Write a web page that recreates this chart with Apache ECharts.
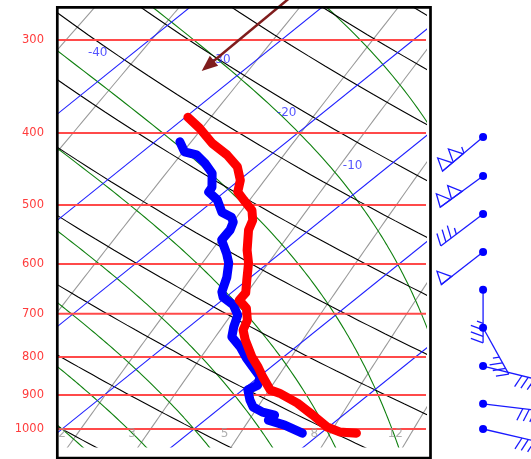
<!DOCTYPE html>
<html><head><meta charset="utf-8">
<script src="https://cdn.jsdelivr.net/npm/echarts@6/dist/echarts.min.js"></script>
<style>html,body{margin:0;padding:0;background:#fff}#c{width:531px;height:459px}</style>
</head><body><div id="c"></div>
<script>
// ---------------- data ----------------
const pressureLevels = [300, 400, 500, 600, 700, 800, 900, 1000];
const pressureLabels = ['300', '400', '500', '600', '700', '800', '900', '1000'];
const isothermTemps = [-120, -110, -100, -90, -80, -70, -60, -50, -40, -30, -20, -10, 0, 10, 20, 30, 40];
const dryAdiabatThetas = [-30, -20, -10, 0, 10, 20, 30, 40, 50, 60, 70, 80, 90, 100, 110, 120, 130, 140, 150];
const moistAdiabatThetas = [-10, -5, 0, 5, 10, 15, 20, 25, 30, 35, 40];
const mixingRatios = [0.2, 0.4, 1, 2, 3, 5, 8, 12, 20];
const mixingLabelValues = [2, 3, 5, 8, 12];
const mixingLabelTexts = ['2', '3', '5', '8', '12'];
const isothermLabelTemps = [-40, -30, -20, -10];
const isothermLabelTexts = ['-40', '-30', '-20', '-10'];
const isothermLabelPressures = [311, 318, 375, 442];

const tempPressure = [381, 394, 413, 428, 444, 463, 480, 492, 508, 524, 540, 575, 598, 631, 656, 671, 688, 714, 736, 759, 800, 825, 851, 886, 895, 923, 958, 994, 1009, 1013];
const tempValues = [-29.8, -27.9, -25.5, -23.3, -21.4, -19.9, -19.0, -17.8, -16.2, -15.2, -14.6, -12.8, -11.5, -10.0, -8.9, -8.7, -7.4, -6.2, -5.6, -4.5, -2.4, -1.0, 0.3, 2.1, 3.1, 5.4, 7.7, 9.9, 11.3, 12.7];
const dewPressure = [411, 424, 428, 439, 453, 473, 480, 492, 511, 519, 527, 540, 557, 580, 598, 625, 654, 665, 681, 703, 729, 752, 776, 803, 825, 851, 873, 886, 914, 934, 949, 958, 973, 988, 1013];
const dewValues = [-28.1, -26.8, -25.6, -24.2, -22.7, -21.4, -21.2, -19.8, -18.3, -17.1, -16.5, -16.0, -15.7, -14.1, -13.0, -11.8, -10.8, -10.2, -8.7, -7.4, -6.6, -5.8, -4.2, -2.7, -1.4, 0.1, 0.7, 0.4, 1.5, 2.4, 3.6, 4.8, 4.8, 6.5, 8.6];

const windPressure = [405, 457, 514, 578, 650, 731, 823, 925, 1000];
const windDirection = [230, 234, 233, 232, 180, 151, 104, 97, 103];
const windSpeed = [105, 100, 35, 50, 35, 35, 30, 30, 30];

// arrow: [skewed X, pressure] of start and end
const arrowStart = [7.5, 261];
const arrowEnd = [0.58, 330];

// ---------------- diagram geometry ----------------
const SKEW = 70;
const P_TOP = 271.6, P_BOT = 1057.3, X_MIN = -10.38, X_MAX = 17.5;
const BARB_X = 21.9;
const skewX = (T, p) => T + SKEW * Math.log10(1000 / p);

const Rd = 287.04, Cp = 1005.7, Lv = 2.501e6, EPS = 0.622;
const es = Tc => 6.112 * Math.exp(17.67 * Tc / (Tc + 243.5));
function dTdp(T, p) {
  const e = es(T - 273.15), rs = EPS * e / (p - e);
  return (1 / p) * (Rd * T + Lv * rs) / (Cp + (Lv * Lv * rs * EPS) / (Rd * T * T));
}
function moistLine(tw) {
  const up = [], down = [];
  let T = tw + 273.15, p = 1000, h = -5;
  up.push([skewX(T - 273.15, p), p]);
  while (p > 255) {
    const k1 = dTdp(T, p), k2 = dTdp(T + h * k1 / 2, p + h / 2), k3 = dTdp(T + h * k2 / 2, p + h / 2), k4 = dTdp(T + h * k3, p + h);
    T += h * (k1 + 2 * k2 + 2 * k3 + k4) / 6; p += h;
    up.push([skewX(T - 273.15, p), p]);
  }
  T = tw + 273.15; p = 1000; h = 5;
  while (p < 1075) {
    const k1 = dTdp(T, p), k2 = dTdp(T + h * k1 / 2, p + h / 2), k3 = dTdp(T + h * k2 / 2, p + h / 2), k4 = dTdp(T + h * k3, p + h);
    T += h * (k1 + 2 * k2 + 2 * k3 + k4) / 6; p += h;
    down.unshift([skewX(T - 273.15, p), p]);
  }
  return down.concat(up);
}
const pSteps = [];
for (let p = 1075; p >= 255; p -= 10) pSteps.push(p);
const dryLine = th => pSteps.map(p => [skewX((th + 273.15) * Math.pow(p / 1000, 0.2857) - 273.15, p), p]);
function tdFromW(w, p) {
  const e = w * p / (622 + w), a = Math.log(e / 6.112);
  return 243.5 * a / (17.67 - a);
}
const mixLine = w => pSteps.map(p => [skewX(tdFromW(w, p), p), p]);

function ls(data, color, width, z) {
  return { type: 'line', data, showSymbol: false, symbol: 'none', silent: true, animation: false, clip: true,
    lineStyle: { color, width }, z, emphasis: { disabled: true } };
}

const series = [];
mixingRatios.forEach(w => series.push(ls(mixLine(w), '#9a9a9a', 1.1, 1)));
moistAdiabatThetas.forEach(t => series.push(ls(moistLine(t), '#0f800f', 1.1, 2)));
dryAdiabatThetas.forEach(t => series.push(ls(dryLine(t), '#000000', 1.1, 3)));
isothermTemps.forEach(t => series.push(ls([[skewX(t, 1075), 1075], [skewX(t, 255), 255]], '#1f1fff', 1.1, 4)));
pressureLevels.forEach(p => series.push(ls([[X_MIN - 1, p], [X_MAX + 1, p]], '#ff4a4a', 2, 5)));

series.push({ type: 'line', data: dewPressure.map((p, i) => [skewX(dewValues[i], p), p]), showSymbol: false, symbol: 'none',
  silent: true, animation: false, lineStyle: { color: '#0000ff', width: 9, cap: 'round', join: 'round' }, z: 10 });
series.push({ type: 'line', data: tempPressure.map((p, i) => [skewX(tempValues[i], p), p]), showSymbol: false, symbol: 'none',
  silent: true, animation: false, lineStyle: { color: '#ff0000', width: 9, cap: 'round', join: 'round' }, z: 11 });

// isotherm labels
series.push({ type: 'scatter', symbolSize: 0, silent: true, animation: false, z: 12,
  data: isothermLabelTemps.map((t, i) => [skewX(t, isothermLabelPressures[i]), isothermLabelPressures[i], i]),
  label: { show: true, position: 'inside', offset: [-37, 1], formatter: d => isothermLabelTexts[d.value[2]],
    color: '#2b2bff', fontSize: 12, fontFamily: 'DejaVu Sans' } });
// mixing ratio labels
series.push({ type: 'scatter', symbolSize: 0, silent: true, animation: false, z: 12,
  data: mixingLabelValues.map((w, i) => [skewX(tdFromW(w, 1012), 1012), 1012, i]),
  label: { show: true, position: 'inside', offset: [-16, 1], formatter: d => mixingLabelTexts[d.value[2]],
    color: '#9a9a9a', fontSize: 12, fontFamily: 'DejaVu Sans' } });

// wind barbs
series.push({ type: 'custom', coordinateSystem: 'cartesian2d', clip: false, silent: true, animation: false, z: 20,
  data: windPressure.map((p, i) => [BARB_X, p, windDirection[i], windSpeed[i]]),
  renderItem(params, api) {
    const c = api.coord([api.value(0), api.value(1)]);
    const d = api.value(2) * Math.PI / 180, spd = api.value(3);
    const ux = Math.sin(d), uy = -Math.cos(d);
    const tilt = 20 * Math.PI / 180;
    const qx = -uy, qy = ux;
    const px = qx * Math.cos(tilt) - ux * Math.sin(tilt), py = qy * Math.cos(tilt) - uy * Math.sin(tilt);
    const L = 53, FL = 13, PW = 13, SP = 6.5;
    const col = '#1a1aff';
    const P = s => [c[0] + s * ux, c[1] + s * uy];
    const kids = [];
    kids.push({ type: 'line', shape: { x1: c[0], y1: c[1], x2: c[0] + L * ux, y2: c[1] + L * uy }, style: { stroke: col, lineWidth: 1.3 } });
    let rem = Math.round(spd / 5) * 5;
    let s = L;
    const pen = Math.floor(rem / 50); rem -= pen * 50;
    const full = Math.floor(rem / 10); rem -= full * 10;
    const half = rem >= 5 ? 1 : 0;
    for (let k = 0; k < pen; k++) {
      const a = P(s), b = P(s - PW);
      kids.push({ type: 'polygon', shape: { points: [a, [a[0] + (FL + 1) * px, a[1] + (FL + 1) * py], b] }, style: { fill: 'none', stroke: col, lineWidth: 1.3 } });
      s -= PW + 1;
    }
    if (pen === 0 && full === 0 && half) s -= SP;
    for (let k = 0; k < full + half; k++) {
      const len = k < full ? FL : FL / 2;
      const a = P(s);
      kids.push({ type: 'line', shape: { x1: a[0], y1: a[1], x2: a[0] + len * px, y2: a[1] + len * py }, style: { stroke: col, lineWidth: 1.3 } });
      s -= SP;
    }
    kids.push({ type: 'circle', shape: { cx: c[0], cy: c[1], r: 4 }, style: { fill: '#0000ff' } });
    return { type: 'group', children: kids };
  } });

// arrow
series.push({ type: 'custom', coordinateSystem: 'cartesian2d', clip: false, silent: true, animation: false, z: 21,
  data: [[arrowStart[0], arrowStart[1], arrowEnd[0], arrowEnd[1]]],
  renderItem(params, api) {
    const a = api.coord([api.value(0), api.value(1)]);
    const b = api.coord([api.value(2), api.value(3)]);
    const dx = b[0] - a[0], dy = b[1] - a[1], len = Math.hypot(dx, dy);
    const ux = dx / len, uy = dy / len, HL = 16, HW = 6.5;
    const base = [b[0] - HL * ux, b[1] - HL * uy];
    const col = '#7f1d1d';
    return { type: 'group', children: [
      { type: 'line', shape: { x1: a[0], y1: a[1], x2: base[0] + 2 * ux, y2: base[1] + 2 * uy }, style: { stroke: col, lineWidth: 2.5 } },
      { type: 'polygon', shape: { points: [b, [base[0] - HW * uy, base[1] + HW * ux], [base[0] + HW * uy, base[1] - HW * ux]] }, style: { fill: col } }
    ] };
  } });

const chart = echarts.init(document.getElementById('c'), null, { renderer: 'canvas' });
chart.setOption({
  animation: false,
  backgroundColor: '#ffffff',
  grid: { left: 57, top: 8, width: 368, height: 439, containLabel: false },
  xAxis: { type: 'value', min: X_MIN, max: X_MAX, show: false },
  yAxis: { type: 'log', logBase: 10, min: P_TOP, max: P_BOT, inverse: true,
    axisLine: { show: false }, axisTick: { show: false }, splitLine: { show: false },
    axisLabel: { customValues: pressureLevels, margin: 13, color: '#ff3c3c', fontSize: 11.5, fontFamily: 'DejaVu Sans',
      formatter: v => { const i = pressureLevels.findIndex(q => Math.abs(q - v) < 1); return i >= 0 ? pressureLabels[i] : ''; } } },
  graphic: [{ type: 'rect', z: 100, silent: true, shape: { x: 57.3, y: 7.3, width: 373.2, height: 450.7 },
    style: { fill: 'none', stroke: '#000', lineWidth: 2.7 } }],
  series
});
</script></body></html>
